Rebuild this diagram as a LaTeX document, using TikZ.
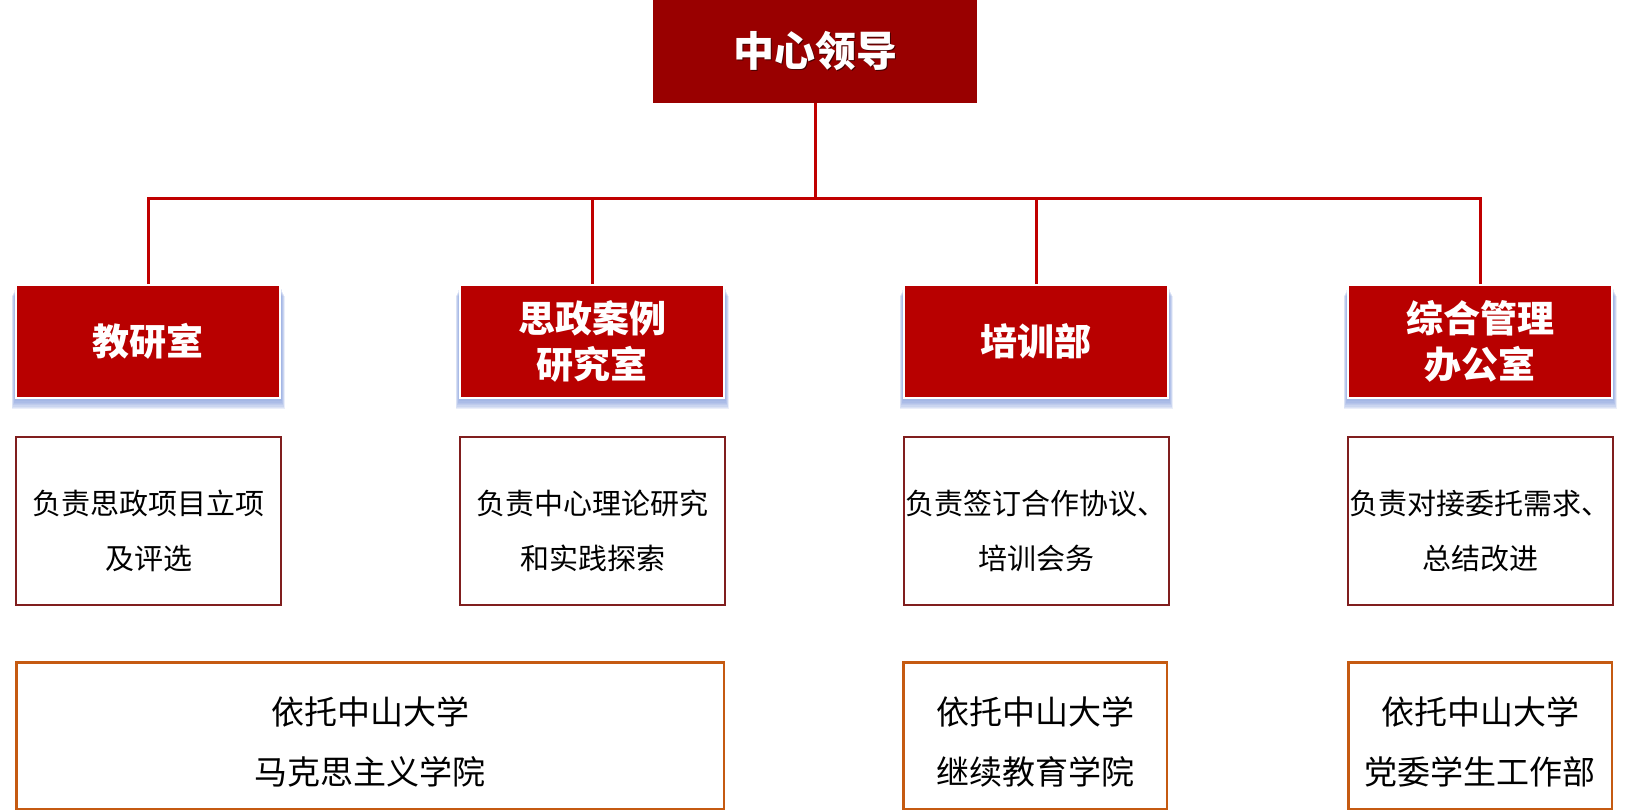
\documentclass[tikz,border=0pt]{standalone}
\usepackage{fontspec}
\setmainfont{Noto Sans CJK SC}
\definecolor{topred}{RGB}{153,0,0}
\definecolor{ltwored}{RGB}{184,0,0}
\definecolor{linered}{RGB}{192,0,0}
\definecolor{descborder}{RGB}{128,30,30}
\definecolor{orangeb}{RGB}{197,90,17}
\definecolor{shblue}{RGB}{125,152,218}
\definecolor{txtshadow}{RGB}{70,0,0}
\pgfdeclarelayer{bg}
\pgfsetlayers{bg,main}
\newcommand\shtext[1]{\leavevmode\rlap{\kern1.5pt\raisebox{-1.5pt}{\textcolor{txtshadow}{#1}}}#1}
\newcommand\dstrut{\rule{0pt}{44pt}}
\newcommand\bstrut{\rule{0pt}{40pt}}
\begin{document}
\begin{tikzpicture}[x=1pt,y=-1pt,
  topbox/.style={fill=topred, minimum width=324, minimum height=103, inner sep=0pt, text=white,
    font=\fontsize{41}{48}\selectfont\bfseries},
  ltwobox/.style={fill=ltwored, draw=white, line width=2pt, minimum width=264, minimum height=113,
    inner sep=0pt, text=white, align=center, font=\fontsize{37}{46}\selectfont\bfseries},
  descbox/.style={draw=descborder, line width=2pt, minimum width=265, minimum height=168,
    inner sep=0pt, align=center, font=\fontsize{29}{55}\selectfont},
  basebox/.style={draw=orangeb, line width=2.5pt, minimum height=146.5, inner sep=0pt,
    align=center, font=\fontsize{33}{60}\selectfont},
  conn/.style={draw=linered, line width=3pt, line join=miter}]
\useasboundingbox (0,0) rectangle (1629,811);

% top
\node[topbox] (lead) at (815,51.5) {\shtext{中心领导}};

% level 2
\node[ltwobox] (b1) at (148,341.5) {教研室};
\node[ltwobox] (b2) at (592,341.5) {思政案例\\研究室};
\node[ltwobox] (b3) at (1036,341.5) {培训部};
\node[ltwobox] (b4) at (1480,341.5) {综合管理\\办公室};

% descriptions
\node[descbox] (d1) at (148.5,521) {\dstrut 负责思政项目立项\\及评选};
\node[descbox] (d2) at (592.5,521) {\dstrut 负责中心理论研究\\和实践探索};
\node[descbox] (d3) at (1036,521) {\dstrut 负责签订合作协议、\\培训会务};
\node[descbox] (d4) at (1480,521) {\dstrut 负责对接委托需求、\\总结改进};

% base
\node[basebox, minimum width=707.5] (e1) at (370,735.5) {\bstrut 依托中山大学\\马克思主义学院};
\node[basebox, minimum width=263.5] (e3) at (1035,735.5) {\bstrut 依托中山大学\\继续教育学院};
\node[basebox, minimum width=263.5] (e4) at (1480,735.5) {\bstrut 依托中山大学\\党委学生工作部};

% connectors
\coordinate (hub) at (815,198);
\draw[conn] (lead.south) -- (hub);
\draw[conn] (b1.north) -- (b1.north |- hub) -- (b4.north |- hub) -- (b4.north);
\draw[conn] (b2.north) -- (b2.north |- hub);
\draw[conn] (b3.north) -- (b3.north |- hub);

% shadows
\begin{pgfonlayer}{bg}
\foreach \n in {b1,b2,b3,b4}{
  \foreach \k in {1,...,7}{
    \fill[shblue, opacity=0.16] ([xshift=-\k*0.5pt, yshift=-1pt-\k*1.3pt]\n.south west)
      rectangle ([xshift=\k*0.5pt, yshift=-4pt-\k*1.2pt]\n.north east);
  }
}
\end{pgfonlayer}
\end{tikzpicture}
\end{document}
